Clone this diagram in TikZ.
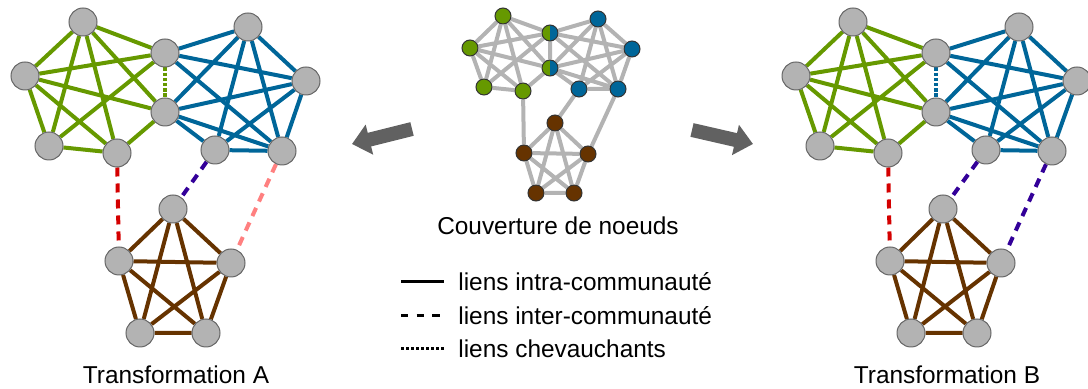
\documentclass[tikz,border=0pt]{standalone}
\usepackage{fontspec}
\setmainfont{Liberation Sans}
\usepackage{tikz}
\usetikzlibrary{arrows.meta, positioning, calc, backgrounds}
\definecolor{commgreen}{HTML}{669900}
\definecolor{commblue}{HTML}{006699}
\definecolor{commbrown}{HTML}{663300}
\definecolor{nodegray}{HTML}{B3B3B3}
\definecolor{linkred}{HTML}{D40000}
\definecolor{linkpurple}{HTML}{330099}
\definecolor{linkpink}{HTML}{FF8080}

\begin{document}
\begin{tikzpicture}[
    x=0.5pt, y=-0.5pt,
    vertex/.style={circle, draw=black!60, fill=nodegray, line width=0.5pt, minimum size=14pt, inner sep=0pt},
    dot/.style={circle, draw=black!80, line width=0.5pt, minimum size=8pt, inner sep=0pt},
    shared/.style={dot, path picture={
        \fill[commgreen] (path picture bounding box.south west) rectangle (path picture bounding box.north);
        \fill[commblue] (path picture bounding box.south) rectangle (path picture bounding box.north east);}},
    intra/.style={line width=2pt},
    inter/.style={line width=2pt, dash pattern=on 4.5pt off 3.5pt},
    overlap/.style={line width=2pt, dash pattern=on 1.7pt off 0.9pt},
    cover/.style={line width=2pt, nodegray},
    bigarrow/.style={-{Triangle[length=9pt, width=15pt]}, line width=7pt, black!62},
    caption/.style={font=\fontsize{12.2}{14}\selectfont},
    legtext/.style={anchor=west, font=\fontsize{12.2}{14}\selectfont, inner sep=0pt},
    legline/.style={line width=1.5pt}
]
\useasboundingbox (0,0) rectangle (1088,389);

% Couverture de noeuds (middle)
\node[dot, fill=commgreen] (C-g1) at (503,16) {};
\node[dot, fill=commgreen] (C-g2) at (470,48) {};
\node[dot, fill=commgreen] (C-g3) at (484,87) {};
\node[dot, fill=commgreen] (C-g4) at (523,91) {};
\node[shared] (C-s1) at (550,33) {};
\node[shared] (C-s2) at (550,68) {};
\node[dot, fill=commblue] (C-b1) at (598,19) {};
\node[dot, fill=commblue] (C-b2) at (632,49) {};
\node[dot, fill=commblue] (C-b3) at (618,89) {};
\node[dot, fill=commblue] (C-b4) at (579,89) {};
\node[dot, fill=commbrown] (C-r1) at (555,123) {};
\node[dot, fill=commbrown] (C-r2) at (524,153) {};
\node[dot, fill=commbrown] (C-r3) at (588,154) {};
\node[dot, fill=commbrown] (C-r4) at (536,193) {};
\node[dot, fill=commbrown] (C-r5) at (574,193) {};
\node[caption] (cover) at (558,226) {Couverture de noeuds};

% Transformation A (left)
\node[vertex] (A-g1) at (83,22) {};
\node[vertex] (A-g2) at (25,76) {};
\node[vertex] (A-g3) at (49,146) {};
\node[vertex] (A-g4) at (117,153) {};
\node[vertex] (A-s1) at (165,53) {};
\node[vertex] (A-s2) at (165,112) {};
\node[vertex] (A-b1) at (248,27) {};
\node[vertex] (A-b2) at (306,81) {};
\node[vertex] (A-b3) at (282,151) {};
\node[vertex] (A-b4) at (215,150) {};
\node[vertex] (A-r1) at (173,209) {};
\node[vertex] (A-r2) at (119,261) {};
\node[vertex] (A-r3) at (231,263) {};
\node[vertex] (A-r4) at (140,333) {};
\node[vertex] (A-r5) at (206,333) {};
\node[caption] (capA) at (176,375) {Transformation A};

% Transformation B (right)
\node[vertex] (B-g1) at (853,22) {};
\node[vertex] (B-g2) at (796,76) {};
\node[vertex] (B-g3) at (820,146) {};
\node[vertex] (B-g4) at (888,153) {};
\node[vertex] (B-s1) at (936,53) {};
\node[vertex] (B-s2) at (936,112) {};
\node[vertex] (B-b1) at (1019,27) {};
\node[vertex] (B-b2) at (1077,81) {};
\node[vertex] (B-b3) at (1052,151) {};
\node[vertex] (B-b4) at (986,150) {};
\node[vertex] (B-r1) at (943,209) {};
\node[vertex] (B-r2) at (890,261) {};
\node[vertex] (B-r3) at (1001,263) {};
\node[vertex] (B-r4) at (911,333) {};
\node[vertex] (B-r5) at (977,333) {};
\node[caption] (capB) at (947,375) {Transformation B};

\begin{scope}[on background layer]
% Edges, middle
\draw[cover] (C-g1) -- (C-g2) (C-g1) -- (C-g3) (C-g1) -- (C-g4) (C-g1) -- (C-s1) (C-g1) -- (C-s2)
    (C-g2) -- (C-g3) (C-g2) -- (C-g4) (C-g2) -- (C-s1) (C-g2) -- (C-s2) (C-g3) -- (C-g4) (C-g3) -- (C-s1) (C-g4) -- (C-s2);
\draw[cover] (C-b1) -- (C-b2) (C-b1) -- (C-b3) (C-b1) -- (C-b4) (C-b1) -- (C-s1) (C-b1) -- (C-s2) (C-b2) -- (C-b3)
    (C-b2) -- (C-b4) (C-b2) -- (C-s1) (C-b2) -- (C-s2) (C-b3) -- (C-b4) (C-b3) -- (C-s1) (C-b3) -- (C-s2) (C-b4) -- (C-s2);
\draw[cover] (C-s1) -- (C-s2) (C-g4) -- (C-r2) (C-b4) -- (C-r1) (C-b3) -- (C-r3);
\draw[cover] (C-r1) -- (C-r2) (C-r1) -- (C-r3) (C-r1) -- (C-r4) (C-r1) -- (C-r5) (C-r2) -- (C-r3)
    (C-r2) -- (C-r4) (C-r2) -- (C-r5) (C-r3) -- (C-r4) (C-r3) -- (C-r5) (C-r4) -- (C-r5);

% Edges, A
\draw[intra, commgreen] (A-g1) -- (A-g2) (A-g1) -- (A-g3) (A-g1) -- (A-g4) (A-g1) -- (A-s1) (A-g1) -- (A-s2)
    (A-g2) -- (A-g3) (A-g2) -- (A-g4) (A-g2) -- (A-s1) (A-g2) -- (A-s2) (A-g3) -- (A-g4) (A-g3) -- (A-s1) (A-g4) -- (A-s2);
\draw[intra, commblue] (A-b1) -- (A-b2) (A-b1) -- (A-b3) (A-b1) -- (A-b4) (A-b1) -- (A-s1) (A-b1) -- (A-s2) (A-b2) -- (A-b3)
    (A-b2) -- (A-b4) (A-b2) -- (A-s1) (A-b2) -- (A-s2) (A-b3) -- (A-b4) (A-b3) -- (A-s1) (A-b3) -- (A-s2) (A-b4) -- (A-s2);
\draw[intra, commbrown] (A-r1) -- (A-r2) (A-r1) -- (A-r3) (A-r1) -- (A-r4) (A-r1) -- (A-r5) (A-r2) -- (A-r3)
    (A-r2) -- (A-r4) (A-r2) -- (A-r5) (A-r3) -- (A-r4) (A-r3) -- (A-r5) (A-r4) -- (A-r5);
\draw[overlap, commgreen] (A-s1) -- (A-s2);
\draw[inter, linkred] (A-g4) -- (A-r2);
\draw[inter, linkpurple] (A-b4) -- (A-r1);
\draw[inter, linkpink] (A-b3) -- (A-r3);

% Edges, B
\draw[intra, commgreen] (B-g1) -- (B-g2) (B-g1) -- (B-g3) (B-g1) -- (B-g4) (B-g1) -- (B-s1) (B-g1) -- (B-s2)
    (B-g2) -- (B-g3) (B-g2) -- (B-g4) (B-g2) -- (B-s1) (B-g2) -- (B-s2) (B-g3) -- (B-g4) (B-g3) -- (B-s1) (B-g4) -- (B-s2);
\draw[intra, commblue] (B-b1) -- (B-b2) (B-b1) -- (B-b3) (B-b1) -- (B-b4) (B-b1) -- (B-s1) (B-b1) -- (B-s2) (B-b2) -- (B-b3)
    (B-b2) -- (B-b4) (B-b2) -- (B-s1) (B-b2) -- (B-s2) (B-b3) -- (B-b4) (B-b3) -- (B-s1) (B-b3) -- (B-s2) (B-b4) -- (B-s2);
\draw[intra, commbrown] (B-r1) -- (B-r2) (B-r1) -- (B-r3) (B-r1) -- (B-r4) (B-r1) -- (B-r5) (B-r2) -- (B-r3)
    (B-r2) -- (B-r4) (B-r2) -- (B-r5) (B-r3) -- (B-r4) (B-r3) -- (B-r5) (B-r4) -- (B-r5);
\draw[overlap, commblue] (B-s1) -- (B-s2);
\draw[inter, linkred] (B-g4) -- (B-r2);
\draw[inter, linkpurple] (B-b4) -- (B-r1);
\draw[inter, linkpurple] (B-b3) -- (B-r3);
\end{scope}

% Arrows
\coordinate (ltail) at (412,129);
\coordinate (ltip) at (352,144);
\coordinate (rtail) at (692,130);
\coordinate (rtip) at (753,144);
\draw[bigarrow] (ltail) -- (ltip);
\draw[bigarrow] (rtail) -- (rtip);

% Legend
\node[legtext] (intrakey) at (458,282) {liens intra-communauté};
\node[legtext] (interkey) at (458,316) {liens inter-communauté};
\node[legtext] (overkey) at (458,349) {liens chevauchants};
\draw[legline] ($(intrakey.west)+(-57,0)$) -- ($(intrakey.west)+(-14,0)$);
\draw[legline, dash pattern=on 3.7pt off 4.1pt] ($(interkey.west)+(-57,0)$) -- ($(interkey.west)+(-14,0)$);
\draw[legline, dash pattern=on 1.5pt off 1pt] ($(overkey.west)+(-57,0)$) -- ($(overkey.west)+(-14,0)$);

\end{tikzpicture}
\end{document}
